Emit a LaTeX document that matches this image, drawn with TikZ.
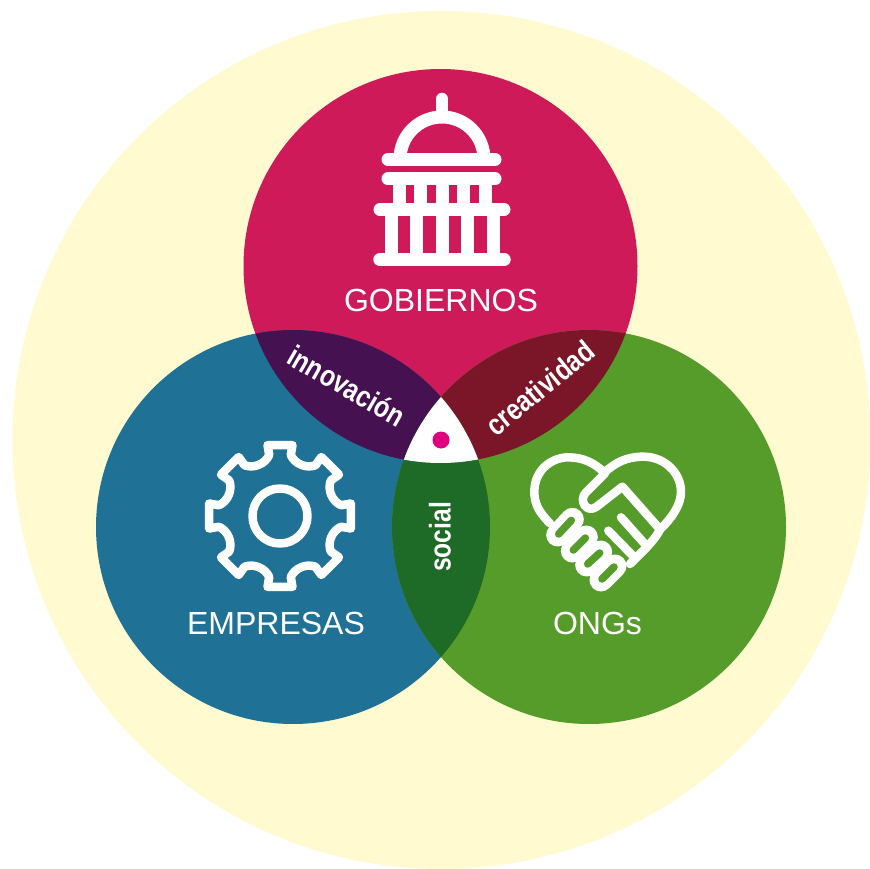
\documentclass[tikz,border=0pt]{standalone}
\usepackage{graphicx}
\usepackage{fontspec}
\setmainfont{Liberation Sans}
\definecolor{cream}{HTML}{FFFACF}
\definecolor{cred}{HTML}{CF1A5A}
\definecolor{cblue}{HTML}{1F7196}
\definecolor{cgreen}{HTML}{569C2B}
\definecolor{cinno}{HTML}{451150}
\definecolor{ccrea}{HTML}{7A1628}
\definecolor{csoc}{HTML}{1E6B28}
\definecolor{cdot}{HTML}{E0007F}
\tikzset{
  bigname/.style={text=white,font=\fontsize{32}{33}\selectfont,inner sep=0pt},
  lens/.style={text=white,font=\bfseries\fontsize{30}{31}\selectfont,inner sep=0pt},
  icon/.style={draw=white,line cap=round,line join=round},
}
\begin{document}
\begin{tikzpicture}[x=1pt,y=-1pt]
\useasboundingbox (0,0) rectangle (870,869);
\fill[white] (0,0) rectangle (870,869);
\fill[cream] (441.5,440) circle (429pt);
\coordinate (R) at (440.5,266);
\coordinate (B) at (293,527);
\coordinate (G) at (589,527);
\def\rad{197pt}
\fill[cred] (R) circle (\rad);
\fill[cblue] (B) circle (\rad);
\fill[cgreen] (G) circle (\rad);
\begin{scope}\clip (R) circle (\rad); \fill[cinno] (B) circle (\rad); \end{scope}
\begin{scope}\clip (R) circle (\rad); \fill[ccrea] (G) circle (\rad); \end{scope}
\begin{scope}\clip (B) circle (\rad); \fill[csoc] (G) circle (\rad); \end{scope}
\begin{scope}\clip (R) circle (\rad); \clip (B) circle (\rad); \fill[white] (G) circle (\rad); \end{scope}
\fill[cdot] (441,440) circle (8.5pt);
% capitol
\begin{scope}[icon]
\draw[line width=12.5pt] (442,99) -- (442,112);
\draw[line width=13pt] (400,159) arc[start angle=180,end angle=0,radius=42pt];
\draw[line width=13pt] (388,159.5) -- (495,159.5);
\draw[line width=13pt] (388,179) -- (495,179);
\draw[line width=13pt] (380,209.7) -- (504,209.7);
\draw[line width=13.5pt] (380,259.7) -- (504,259.7);
\foreach \cx in {399.3,420.3,442,463.3,485}
  \draw[line width=13pt,line cap=butt] (\cx,179) -- (\cx,210);
\foreach \cx in {391.3,416.7,442,467.3,493}
  \draw[line width=13pt,line cap=butt] (\cx,210) -- (\cx,260);
\end{scope}
% gear
\begin{scope}[shift={(280,516)}]
\draw[icon,line width=8.5pt] (-10:72)
  foreach \a in {0,45,...,315} {
    -- (\a+10:72) -- (\a+10:62) .. controls (\a+16:54) and (\a+29:54) .. (\a+35:62) -- (\a+35:72)
  } -- cycle;
\draw[icon,line width=8.5pt] (0,0) circle (27.5pt);
\end{scope}
% handshake heart
\begin{scope}[shift={(515,440)},x=.33333pt,y=-.33333pt]
\draw[icon,line width=8.5pt] (105,250) .. controls (70,215) and (58,190) .. (58,155)
  .. controls (58,90) and (110,52) .. (160,52)
  .. controls (205,52) and (240,70) .. (268,98)
  .. controls (300,68) and (335,50) .. (385,50)
  .. controls (450,50) and (498,100) .. (498,155)
  .. controls (498,195) and (470,235) .. (435,268);
\draw[icon,line width=8.5pt] (270,100) -- (212,158)
  .. controls (190,182) and (215,222) .. (245,200)
  -- (322,140) -- (435,268) .. controls (425,290) and (410,305) .. (395,322) -- (345,372);
\draw[icon,line width=8.5pt] (318,232) -- (395,318);
\draw[icon,line width=8.5pt] (280,272) -- (358,352);
\foreach \xa/\ya/\xb/\yb in {128/285/172/238,172/333/214/291,215/375/257/336,258/420/300/378}
  \draw[white,line width=23pt,line cap=round] (\xa,\ya) -- (\xb,\yb);
\foreach \xa/\ya/\xb/\yb in {131/282/169/241,175/330/211/294,218/372/254/339,261/417/297/381}
  \draw[cgreen,line width=7.5pt,line cap=round] (\xa,\ya) -- (\xb,\yb);
\end{scope}
% labels
\node[bigname] (gob) at (441,300) {GOBIERNOS};
\node[bigname] (emp) at (276,623) {EMPRESAS};
\node[bigname] (ong) at (597.5,623) {ONGs};
\node[lens,rotate=-30] (inn) at (346.7,386) {\scalebox{.82}[1]{innovación}};
\node[lens,rotate=39] (cre) at (540,388) {\scalebox{.82}[1]{creatividad}};
\node[lens,rotate=90] (soc) at (440,537) {\scalebox{.82}[1]{social}};
\end{tikzpicture}
\end{document}
